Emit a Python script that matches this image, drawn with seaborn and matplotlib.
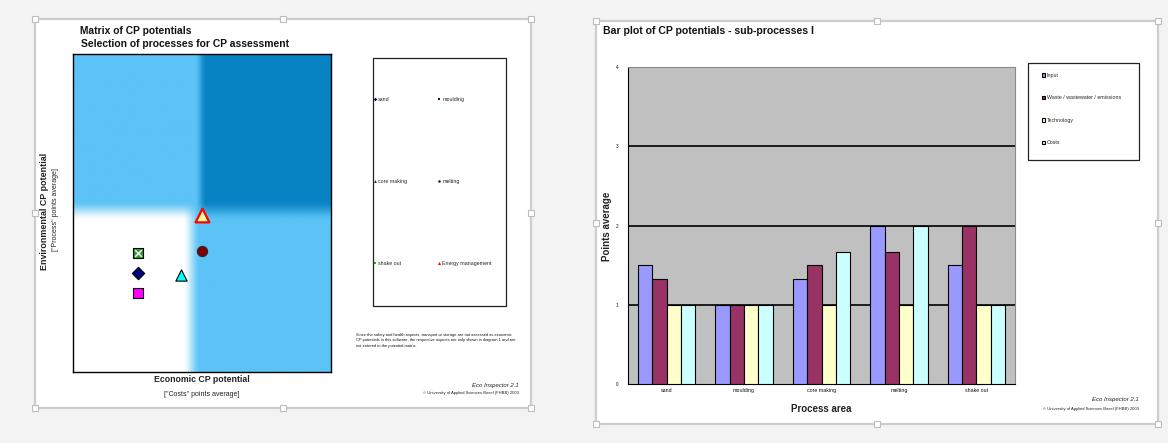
import numpy as np
import pandas as pd
import matplotlib
matplotlib.use("Agg")
import matplotlib.pyplot as plt
from matplotlib.patches import Rectangle
from matplotlib.lines import Line2D
import seaborn as sns

# ---------------- data ----------------
processes = ["sand", "moulding", "core making", "melting", "shake out"]
input_pts = [1.5, 1.0, 1.33, 2.0, 1.5]
waste_pts = [1.33, 1.0, 1.5, 1.67, 2.0]
technology_pts = [1.0, 1.0, 1.0, 1.0, 1.0]
costs_pts = [1.0, 1.0, 1.67, 2.0, 1.0]
aspects = ["Input", "Waste / wastewater / emissions", "Technology", "Costs"]
y_ticks = [0, 1, 2, 3, 4]

matrix_labels = ["sand", "moulding", "core making", "melting", "shake out",
                 "Energy management"]
economic_pts = [1.0, 1.0, 1.67, 2.0, 1.0, 2.0]
environmental_pts = [1.25, 1.0, 1.22, 1.52, 1.5, 1.98]

# ---------------- styling ----------------
sns.set_theme(style="white")
plt.rcParams["font.family"] = ["Liberation Sans", "DejaVu Sans"]

W, H = 1168, 443
fig = plt.figure(figsize=(W / 100, H / 100), dpi=100, facecolor="#f3f3f3")


def fx(px):
    return px / W


def fy(py):
    return 1 - py / H


def rect_fig(l, t, r, b):
    return [fx(l), fy(b), (r - l) / W, (b - t) / H]


def card(l, t, r, b):
    fig.add_artist(Rectangle((fx(l), fy(b)), (r - l) / W, (b - t) / H,
                             transform=fig.transFigure, facecolor="white",
                             edgecolor="#cdcdcd", lw=1.6, zorder=-2))
    cx, cy = (l + r) / 2, (t + b) / 2
    for hx in (l, cx, r):
        for hy in (t, cy, b):
            if hx == cx and hy == cy:
                continue
            fig.add_artist(Rectangle((fx(hx - 3), fy(hy + 3)), 6 / W, 6 / H,
                                     transform=fig.transFigure,
                                     facecolor="white", edgecolor="#bdbdbd",
                                     lw=0.8, zorder=-1))


card(35, 19, 531, 408)
card(596, 21, 1158, 424)

# ---------------- matrix of CP potentials ----------------
ax1 = fig.add_axes(rect_fig(73, 54, 331, 372))

white = np.array([1.0, 1.0, 1.0])
light = np.array([0x5B, 0xC3, 0xF6]) / 255
dark = np.array([0x07, 0x82, 0xC3]) / 255


def smooth(t):
    u = np.clip((t + 1) / 2, 0, 1)
    return u * u * (3 - 2 * u)


gx, gy = np.meshgrid(np.linspace(0, 4, 500), np.linspace(0, 4, 500))
top_w = smooth((gx - 1.98) / 0.09)[..., None]
bot_w = smooth((gx - 1.84) / 0.14)[..., None]
vert_w = smooth((gy - 2.03) / 0.13)[..., None]
top_row = light + (dark - light) * top_w
bot_row = white + (light - white) * bot_w
background = bot_row * (1 - vert_w) + top_row * vert_w
ax1.imshow(background, extent=(0, 4, 0, 4), origin="lower", aspect="auto",
           interpolation="bilinear", zorder=0)

marker_style = {
    "sand": dict(marker="D", color="#000080", edgecolor="black", s=40, linewidth=0.8),
    "moulding": dict(marker="s", color="#ff00ff", edgecolor="black", s=58, linewidth=0.8),
    "core making": dict(marker="^", color="#00ffff", edgecolor="black", s=66, linewidth=0.8),
    "melting": dict(marker="o", color="#800000", edgecolor="#2a2a2a", s=54, linewidth=0.8),
    "shake out": dict(marker="s", color="#339933", edgecolor="black", s=62, linewidth=0.8),
    "Energy management": dict(marker="^", color="#ffff99", edgecolor="#ff0000", s=98, linewidth=1.6),
}

matrix_df = pd.DataFrame({"label": matrix_labels,
                          "economic": economic_pts,
                          "environmental": environmental_pts})
for _, row in matrix_df.iterrows():
    sns.scatterplot(x=[row["economic"]], y=[row["environmental"]], ax=ax1,
                    zorder=3, legend=False, **marker_style[row["label"]])
    if row["label"] == "shake out":
        sns.scatterplot(x=[row["economic"]], y=[row["environmental"]], ax=ax1,
                        marker="x", color="white", s=22, linewidth=1.0,
                        zorder=4, legend=False)

ax1.set_xlim(0, 4)
ax1.set_ylim(0, 4)
ax1.set_xticks([])
ax1.set_yticks([])
ax1.set_xlabel("")
ax1.set_ylabel("")
for sp in ax1.spines.values():
    sp.set_color("black")
    sp.set_linewidth(1.0)

# legend box of the matrix
fig.add_artist(Rectangle((fx(372.5), fy(305.5)), 133 / W, 247.5 / H,
                         transform=fig.transFigure, facecolor="white",
                         edgecolor="#222222", lw=0.9, zorder=1))
legend_small = {
    "sand": dict(marker="D", color="#000080", ms=1.8),
    "moulding": dict(marker="s", color="#4b0050", ms=1.8),
    "core making": dict(marker="^", color="#003333", ms=2.0),
    "melting": dict(marker="o", color="#400000", ms=1.8),
    "shake out": dict(marker="s", color="#22aa22", ms=1.8),
    "Energy management": dict(marker="^", color="#ff0000", ms=2.2),
}
col_order = ["sand", "core making", "shake out",
             "moulding", "melting", "Energy management"]
handles = [Line2D([], [], linestyle="none", markeredgewidth=0,
                  marker=legend_small[n]["marker"],
                  color=legend_small[n]["color"],
                  markersize=legend_small[n]["ms"]) for n in col_order]
leg1 = fig.legend(handles, col_order, loc="upper left",
                  bbox_to_anchor=(fx(374), fy(97)), ncol=2, frameon=False,
                  fontsize=3.8, borderpad=0, borderaxespad=0,
                  labelspacing=14.6, handlelength=0.5, handletextpad=0.3,
                  columnspacing=5.8)
leg1.set_zorder(2)

# titles and annotations of the matrix card
fig.text(fx(80), fy(31), "Matrix of CP potentials", fontsize=7.4,
         fontweight="bold", va="center", ha="left", color="#111111")
fig.text(fx(81), fy(44), "Selection of processes for CP assessment",
         fontsize=7.4, fontweight="bold", va="center", ha="left",
         color="#111111")
fig.text(fx(202), fy(380), "Economic CP potential", fontsize=6.3,
         fontweight="bold", va="center", ha="center", color="#222222")
fig.text(fx(202), fy(395), "[\"Costs\" points average]", fontsize=5,
         va="center", ha="center", color="#222222")
fig.text(fx(44.5), fy(211), "Environmental CP potential", fontsize=6.4,
         fontweight="bold", va="center", ha="center", rotation=90,
         color="#222222")
fig.text(fx(55.5), fy(210), "[\"Process\" points average]", fontsize=5,
         va="center", ha="center", rotation=90, color="#222222")
fig.text(fx(356), fy(333),
         "Since the safety and health aspects, transport or storage are not assessed as economic\n"
         "CP potentials in this software, the respective aspects are only shown in diagram 1 and are\n"
         "not entered in the potential matrix.",
         fontsize=2.9, va="top", ha="left", linespacing=1.45, color="#111111")
fig.text(fx(519), fy(386), "Eco Inspector 2.1", fontsize=4.3, style="italic",
         va="center", ha="right", color="#222222")
fig.text(fx(519), fy(393), "\u00a9 University of Applied Sciences Basel (FHBB) 2003",
         fontsize=3.0, va="center", ha="right", color="#222222")

# ---------------- bar plot of CP potentials ----------------
ax2 = fig.add_axes(rect_fig(628, 67, 1015, 384))
ax2.set_facecolor("#c0c0c0")

bar_df = pd.DataFrame({
    "process": np.repeat(processes, len(aspects)),
    "aspect": aspects * len(processes),
    "points": np.ravel(np.column_stack([input_pts, waste_pts,
                                        technology_pts, costs_pts])),
})
palette = {"Input": "#9999ff",
           "Waste / wastewater / emissions": "#993366",
           "Technology": "#ffffcc",
           "Costs": "#ccffff"}
sns.barplot(data=bar_df, x="process", y="points", hue="aspect",
            order=processes, hue_order=aspects, palette=palette,
            saturation=1, edgecolor="black", linewidth=0.8, width=0.74,
            errorbar=None, ax=ax2, zorder=3)

for level in y_ticks[1:-1]:
    ax2.axhline(level, color="black", lw=1.2, zorder=1)

ax2.set_ylim(y_ticks[0], y_ticks[-1])
ax2.set_xlim(-0.5, len(processes) - 0.5)
ax2.set_yticks(y_ticks)
ax2.set_yticklabels([str(v) for v in y_ticks], fontsize=3.4)
ax2.set_xticks(range(len(processes)))
ax2.set_xticklabels(processes, fontsize=3.8)
ax2.set_xticks(np.arange(-0.5, len(processes), 1.0), minor=True)
ax2.tick_params(axis="x", which="major", length=0, pad=3, colors="#111111")
ax2.tick_params(axis="x", which="minor", length=3, width=0.7,
                direction="out", color="black")
ax2.tick_params(axis="y", which="major", length=3, width=0.7,
                direction="out", pad=4, colors="#111111")
ax2.set_xlabel("")
ax2.set_ylabel("")
ax2.spines["left"].set_color("black")
ax2.spines["bottom"].set_color("black")
ax2.spines["top"].set_color("#8a8a8a")
ax2.spines["right"].set_color("#8a8a8a")
for sp in ax2.spines.values():
    sp.set_linewidth(0.8)

bar_handles, bar_labels = ax2.get_legend_handles_labels()
if ax2.get_legend() is not None:
    ax2.get_legend().remove()
fig.add_artist(Rectangle((fx(1027.5), fy(160)), 111.5 / W, 97 / H,
                         transform=fig.transFigure, facecolor="white",
                         edgecolor="#222222", lw=0.9, zorder=1))
leg2 = fig.legend(bar_handles, bar_labels, loc="upper left",
                  bbox_to_anchor=(fx(1042), fy(73)), frameon=False,
                  fontsize=3.8, borderpad=0, borderaxespad=0,
                  labelspacing=3.3, handlelength=0.6, handleheight=0.6,
                  handletextpad=0.3)
leg2.set_zorder(2)

fig.text(fx(603), fy(31), "Bar plot of CP potentials - sub-processes I",
         fontsize=7.6, fontweight="bold", va="center", ha="left",
         color="#111111")
fig.text(fx(607), fy(226), "Points average", fontsize=7, fontweight="bold",
         va="center", ha="center", rotation=90, color="#222222")
fig.text(fx(821), fy(409), "Process area", fontsize=7, fontweight="bold",
         va="center", ha="center", color="#222222")
fig.text(fx(1139), fy(399), "Eco Inspector 2.1", fontsize=4.3, style="italic",
         va="center", ha="right", color="#222222")
fig.text(fx(1139), fy(409), "\u00a9 University of Applied Sciences Basel (FHBB) 2003",
         fontsize=3.0, va="center", ha="right", color="#222222")

fig.savefig("out.png", dpi=100, facecolor=fig.get_facecolor())
